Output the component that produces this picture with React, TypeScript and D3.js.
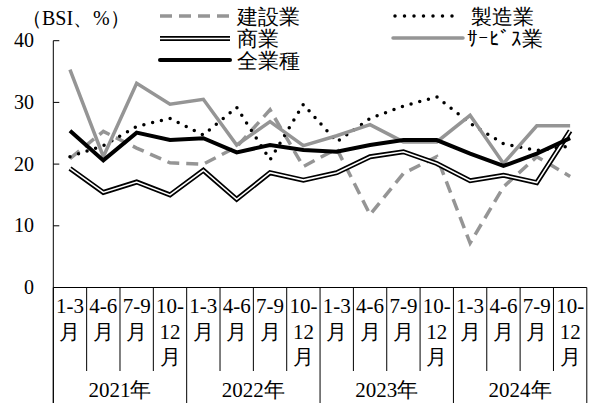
import * as d3 from 'd3';

// quarter labels (multi-line) and years
const quarterLabels: string[][] = [
  ['1-3', '月'],
  ['4-6', '月'],
  ['7-9', '月'],
  ['10-', '12', '月'],
];
const years = ['2021年', '2022年', '2023年', '2024年'];
const yTicks = [0, 10, 20, 30, 40];

// BSI values (%), 2021 1-3月 .. 2024 10-12月
const kensetsu = [20.9, 25.3, 22.6, 20.2, 20.0, 22.8, 28.8, 19.6, 22.5, 11.8, 18.5, 21.2, 7.2, 16.3, 21.2, 18.0];
const seizo = [21.2, 23.0, 26.1, 27.4, 24.7, 29.2, 20.7, 29.7, 23.6, 27.4, 29.4, 30.9, 26.6, 23.3, 22.2, 22.9];
const shogyo = [19.3, 15.4, 17.1, 15.0, 19.0, 14.3, 18.6, 17.4, 18.6, 21.2, 22.0, 20.1, 17.3, 18.2, 17.0, 25.4];
const service = [35.3, 21.2, 33.1, 29.7, 30.5, 23.1, 26.9, 23.0, 24.6, 26.4, 23.6, 23.6, 27.9, 20.1, 26.2, 26.2];
const zengyoshu = [25.4, 20.6, 25.1, 23.9, 24.2, 21.9, 23.1, 22.3, 22.0, 23.1, 23.9, 23.9, 21.7, 19.7, 21.7, 24.2];

const W = 590;
const H = 403;
const GRAY = '#959595';
const FONT = 'Liberation Serif';

const categories = years.flatMap((yr) => quarterLabels.map((q) => `${yr} ${q.join('')}`));

export default function App() {
  const x = d3.scaleBand<string>().domain(categories).range([53.3, 586.8]);
  const y = d3.scaleLinear().domain([0, 40]).range([287.5, 40.7]);
  const cx = (i: number) => (x(categories[i]) ?? 0) + x.bandwidth() / 2;

  const line = d3
    .line<number>()
    .x((_, i) => cx(i))
    .y((d) => y(d));

  const x0 = x.range()[0];
  const x1 = x.range()[1];
  const yBase = y(0);
  const bw = x.bandwidth();
  const yearW = bw * quarterLabels.length;

  return (
    <svg width={W} height={H} style={{ position: 'absolute', left: 0, top: 0, background: '#fff' }}>
      {/* unit label */}
      <text x={22} y={25} fontSize={20} fontFamily={FONT}>
        （BSI、%）
      </text>

      {/* y axis */}
      <line x1={x0} x2={x0} y1={y(40)} y2={H} stroke="#000" strokeWidth={1} />
      {yTicks.map((t) => (
        <g key={t}>
          {t > 0 && <line x1={x0} x2={x0 + 6} y1={y(t)} y2={y(t)} stroke="#000" />}
          <text x={34} y={y(t) + 6.5} fontSize={20} textAnchor="end" fontFamily={FONT}>
            {t}
          </text>
        </g>
      ))}

      {/* category axis box */}
      <line x1={x0} x2={x1} y1={yBase} y2={yBase} stroke="#000" />
      {categories.map((c, i) => {
        const left = x(c) ?? 0;
        const isYear = i % quarterLabels.length === 0;
        const q = quarterLabels[i % quarterLabels.length];
        return (
          <g key={c}>
            <line x1={left} x2={left} y1={yBase} y2={isYear ? H : 371} stroke="#000" />
            {q.map((s, k) => (
              <text key={k} x={left + bw / 2} y={313 + k * 25.5} fontSize={21} textAnchor="middle" fontFamily={FONT}>
                {s}
              </text>
            ))}
          </g>
        );
      })}
      <line x1={x1} x2={x1} y1={yBase} y2={H} stroke="#000" />
      {years.map((yr, i) => (
        <text key={yr} x={x0 + yearW * (i + 0.5)} y={397} fontSize={21} textAnchor="middle" fontFamily={FONT}>
          {yr}
        </text>
      ))}

      {/* series */}
      <path d={line(kensetsu) ?? ''} fill="none" stroke={GRAY} strokeWidth={3.5} strokeDasharray="12 7" />
      <path d={line(seizo) ?? ''} fill="none" stroke="#000" strokeWidth={3.5} strokeDasharray="0 9" strokeLinecap="round" />
      <path d={line(shogyo) ?? ''} fill="none" stroke="#000" strokeWidth={5} strokeLinejoin="miter" />
      <path d={line(shogyo) ?? ''} fill="none" stroke="#fff" strokeWidth={1.6} strokeLinejoin="miter" />
      <path d={line(service) ?? ''} fill="none" stroke={GRAY} strokeWidth={3.5} />
      <path d={line(zengyoshu) ?? ''} fill="none" stroke="#000" strokeWidth={4} />

      {/* legend */}
      <g>
        <line x1={160} x2={230} y1={16} y2={16} stroke={GRAY} strokeWidth={3.5} strokeDasharray="12 7" />
        <text x={237} y={24} fontSize={21} fontFamily={FONT}>建設業</text>
        <line x1={395} x2={455} y1={16} y2={16} stroke="#000" strokeWidth={3.5} strokeDasharray="0 9.5" strokeLinecap="round" />
        <text x={471} y={24} fontSize={21} fontFamily={FONT}>製造業</text>
        <line x1={160} x2={230} y1={38.5} y2={38.5} stroke="#000" strokeWidth={5} />
        <line x1={160} x2={230} y1={38.5} y2={38.5} stroke="#fff" strokeWidth={1.6} />
        <text x={237} y={46} fontSize={21} fontFamily={FONT}>商業</text>
        <line x1={393} x2={463} y1={38} y2={38} stroke={GRAY} strokeWidth={3.5} strokeLinecap="round" />
        <text x={467} y={46} fontSize={21} fontFamily={FONT}>ｻｰﾋﾞｽ業</text>
        <line x1={160} x2={230} y1={60} y2={60} stroke="#000" strokeWidth={4} strokeLinecap="round" />
        <text x={237} y={68} fontSize={21} fontFamily={FONT}>全業種</text>
      </g>
    </svg>
  );
}
